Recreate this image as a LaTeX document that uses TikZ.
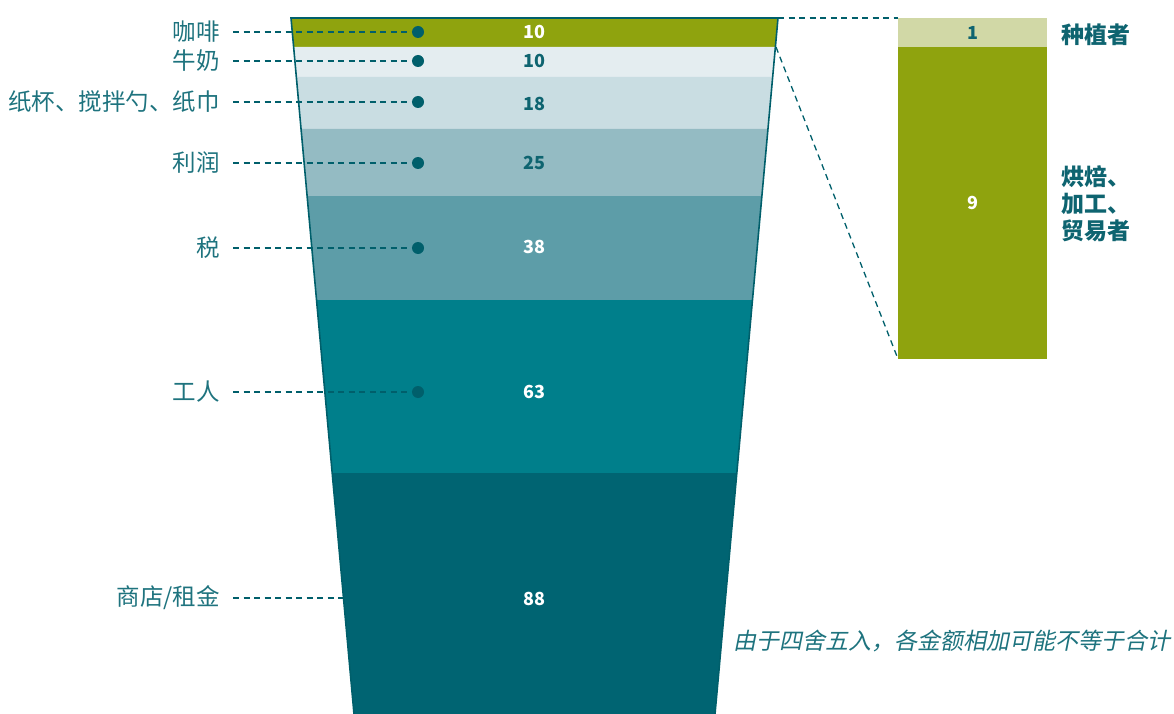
\documentclass[tikz,border=0pt]{standalone}
\usepackage{fontspec}
\setmainfont{Noto Sans CJK SC}[AutoFakeSlant=0.2]
\usetikzlibrary{positioning}
\definecolor{coffee}{RGB}{143,163,14}
\definecolor{milk}{RGB}{228,237,240}
\definecolor{cups}{RGB}{201,221,226}
\definecolor{profit}{RGB}{148,187,195}
\definecolor{tax}{RGB}{93,157,168}
\definecolor{workers}{RGB}{0,127,139}
\definecolor{shop}{RGB}{0,100,114}
\definecolor{growers}{RGB}{209,216,166}
\definecolor{labteal}{RGB}{30,115,126}
\definecolor{numteal}{RGB}{14,100,112}
\definecolor{dotteal}{RGB}{0,95,107}
\tikzset{
	lab/.style={anchor=east,inner sep=0pt,text=labteal,font=\fontsize{23.5}{25}\selectfont},
	num/.style={inner sep=0pt,font=\fontsize{18}{20}\selectfont\bfseries},
	side/.style={anchor=west,inner sep=0pt,text=numteal,align=left,font=\fontsize{23}{27}\selectfont\bfseries},
	dot/.style={circle,fill=dotteal,inner sep=0pt,minimum size=12pt},
	leader/.style={draw=dotteal,line width=1.3pt,dash pattern=on 6pt off 4.5pt},
	cupline/.style={draw=dotteal,line width=1.6pt}
}
\begin{document}
\begin{tikzpicture}[x=1pt,y=-1pt]
	\useasboundingbox (0,0) rectangle (1174,714);
	% cup bands
	\foreach \a/\b/\c in {18/47/coffee,47/77/milk,77/129/cups,129/196/profit,196/300/tax,300/473/workers,473/714/shop}{
		\fill[\c] ({291+0.090517*(\a-18)},\a) -- ({778-0.090517*(\a-18)},\a) -- ({778-0.090517*(\b-18)},\b) -- ({291+0.090517*(\b-18)},\b) -- cycle;
	}
	\draw[cupline] (354,714) -- (291,18) -- (778,18) -- (715,714);
	\foreach \v/\y/\t [count=\i] in {10/32/white,10/61/numteal,18/104/numteal,25/163/numteal,38/247/white,63/392/white,88/599/white}{
		\node[num,text=\t] (val\i) at (534,\y) {\v};
	}
	% labels and leaders
	\foreach \n/\txt/\y in {coffee/咖啡/32,milk/牛奶/61,cups/纸杯、搅拌勺、纸巾/102,profit/利润/163,tax/税/248,workers/工人/392}{
		\node[lab] (\n-lab) at (220,\y) {\txt};
		\node[dot] (\n-dot) at (418,\y) {};
		\draw[leader] ([xshift=13pt]\n-lab.east) -- (\n-dot);
	}
	\node[lab] (shop-lab) at (220,598) {商店/租金};
	\coordinate (shop-end) at (344,598);
	\draw[leader] ([xshift=13pt]shop-lab.east) -- (shop-end);
	% coffee split
	\fill[growers] (898,18) rectangle (1047,47);
	\fill[coffee] (898,47) rectangle (1047,359);
	\node[num,text=numteal] (grow-val) at (972.5,33) {1};
	\node[num,text=white] (roast-val) at (972.5,203) {9};
	\node[side] (grow-lab) at (1061,35) {种植者};
	\node[side] (roast-lab) at (1061,204) {烘焙、\\加工、\\贸易者};
	\coordinate (cup-tr) at (778,18);
	\coordinate (cup-mr) at (776,47);
	\coordinate (box-tl) at (898,18);
	\coordinate (box-bl) at (898,359);
	\draw[leader] (cup-tr) -- (box-tl);
	\draw[leader] (cup-mr) -- (box-bl);
	\node[anchor=east,inner sep=0pt,text=labteal,font=\fontsize{23}{25}\selectfont\itshape] (round-note) at (1171,641) {由于四舍五入，各金额相加可能不等于合计};
\end{tikzpicture}
\end{document}
